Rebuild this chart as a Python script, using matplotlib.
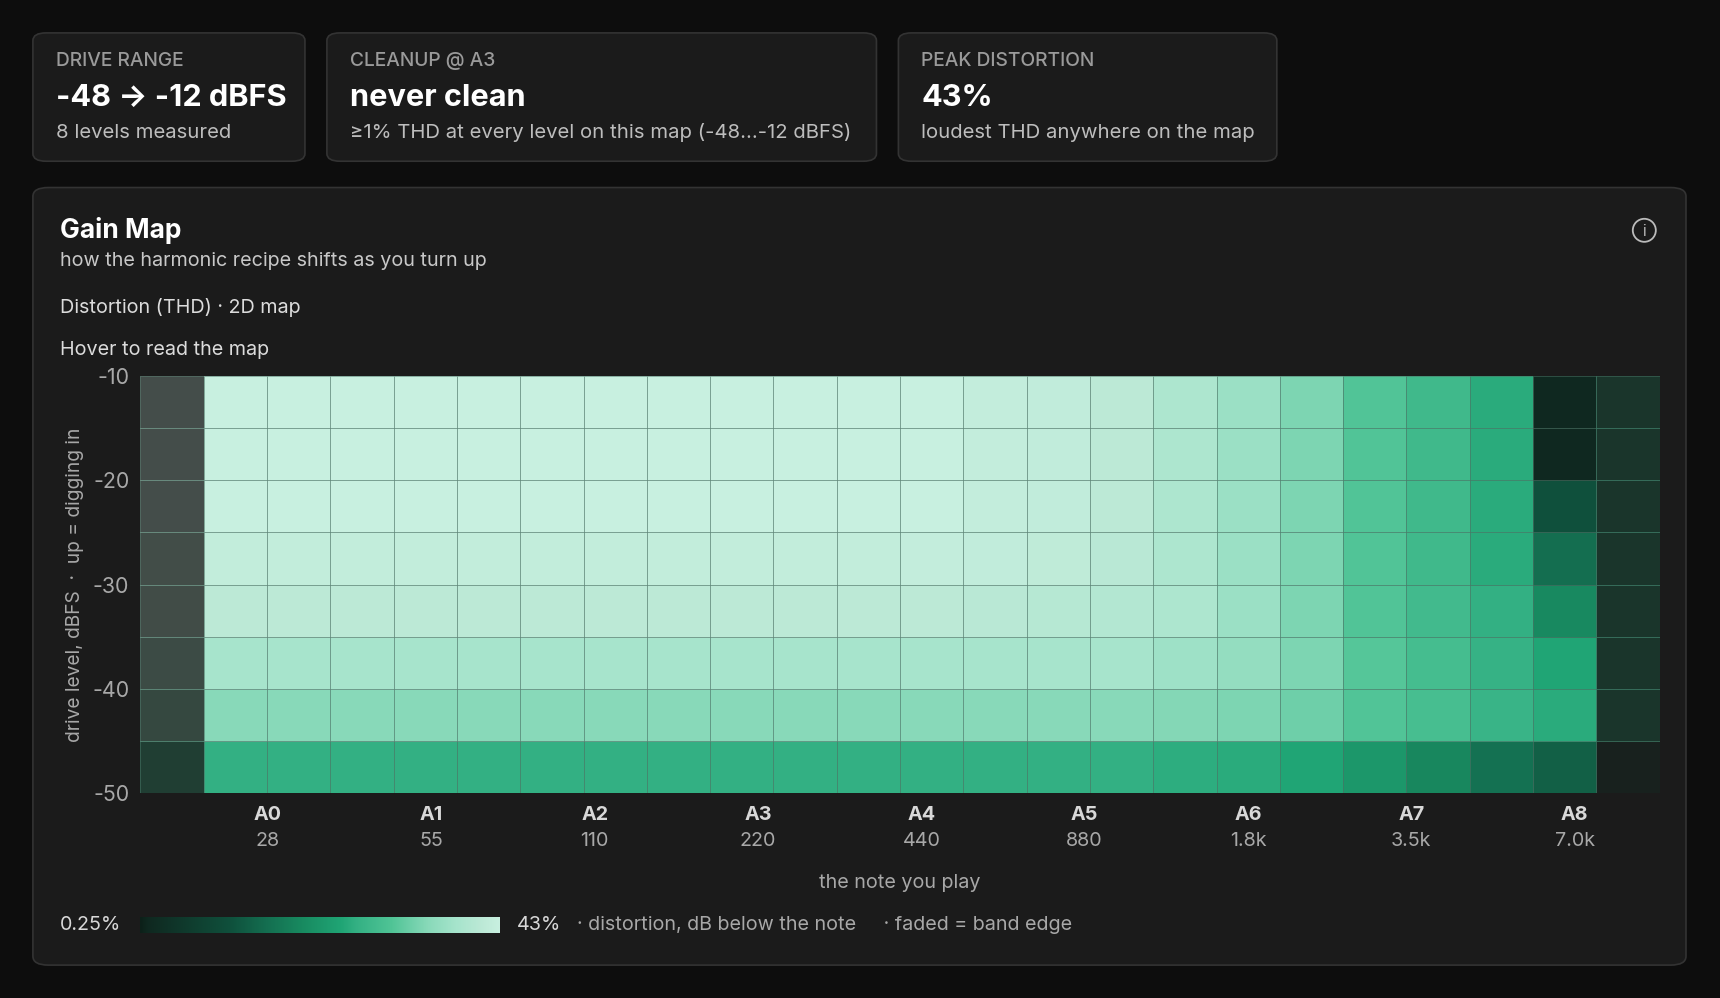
import numpy as np
import matplotlib
matplotlib.use("Agg")
import matplotlib.pyplot as plt
from matplotlib.colors import LinearSegmentedColormap, LogNorm
from matplotlib.patches import FancyBboxPatch, Ellipse

plt.rcParams['font.family'] = ['Inter', 'DejaVu Sans']

# ---------------- data ----------------
levels = [-48, -43, -38, -33, -27, -22, -17, -12]          # bottom -> top
notes = ["A0", "A1", "A2", "A3", "A4", "A5", "A6", "A7", "A8"]
note_freqs = [27.5, 55, 110, 220, 440, 880, 1760, 3520, 7040]
note_freq_labels = ["28", "55", "110", "220", "440", "880", "1.8k", "3.5k", "7.0k"]
band_edge = [True] + [False] * 22 + [True]
# THD % per band (24 bands), one list per level, bottom (-48) -> top (-12)
thd_m48 = [5.5]*12 + [5.5, 5.5, 5.5, 5.5, 5.2, 4.95, 4.45, 3.3, 2.4, 1.6, 1.18, 0.42]
thd_m43 = [15.3]*12 + [15.3, 15.3, 15.3, 15.3, 14.6, 13.8, 11.9, 9.2, 7.9, 6.1, 4.95, 2.5]
thd_m38 = [23.1]*12 + [23.1, 23.1, 23.1, 23.1, 20.8, 17.8, 13.8, 9.7, 7.5, 5.8, 4.45, 2.5]
thd_m33 = [33.1]*12 + [33.1, 31.5, 29.9, 28.4, 25.6, 19.8, 13.8, 9.2, 7.1, 5.5, 2.5, 2.5]
thd_m27 = [38.0]*12 + [38.7, 36.8, 34.9, 31.5, 25.6, 19.8, 13.8, 9.2, 6.8, 4.95, 1.52, 2.5]
thd_m22 = [43.0]*12 + [43.0, 38.7, 36.8, 33.1, 25.6, 19.8, 13.8, 9.2, 6.8, 4.95, 0.91, 2.5]
thd_m17 = [43.0]*12 + [43.0, 38.7, 36.8, 33.1, 25.6, 19.8, 13.8, 9.2, 6.8, 4.95, 0.28, 2.5]
thd_m12 = [43.0]*12 + [43.0, 38.7, 36.8, 33.1, 25.6, 19.8, 13.8, 9.2, 6.8, 4.95, 0.28, 2.5]
thd_rows = [thd_m48, thd_m43, thd_m38, thd_m33, thd_m27, thd_m22, thd_m17, thd_m12]
thd = np.array(thd_rows, dtype=float)

# ---------------- layout helpers ----------------
W, H = 1568.0, 910.0
fig = plt.figure(figsize=(17.2, 9.98), dpi=100)
fig.patch.set_facecolor("#0d0d0d")
S = 1720 / 1568.0  # scale factor display->output px

def rect(x0, y0, x1, y1):
    return [x0 / W, 1 - y1 / H, (x1 - x0) / W, (y1 - y0) / H]

def fx(x): return x / W
def fy(y): return 1 - y / H
def pt(px): return px * S * 72 / 100.0

def card(x0, y0, x1, y1, r=12):
    p = FancyBboxPatch((fx(x0), fy(y1)), fx(x1) - fx(x0), fy(y0) - fy(y1),
                       boxstyle=f"round,pad=0,rounding_size={r / W}",
                       transform=fig.transFigure, facecolor="#1b1b1b",
                       edgecolor="#333333", linewidth=1.2, zorder=-5)
    fig.patches.append(p)

# KPI cards
cards = [
    (30, 278, "DRIVE RANGE", "-48 → -12 dBFS", "8 levels measured"),
    (298, 799, "CLEANUP @ A3", "never clean", "≥1% THD at every level on this map (-48…-12 dBFS)"),
    (819, 1164, "PEAK DISTORTION", "43%", "loudest THD anywhere on the map"),
]
for x0, x1, lab, val, sub in cards:
    card(x0, 30, x1, 147)
    fig.text(fx(x0 + 21), fy(56), lab, color="#9a9a9a", fontsize=pt(17.5), va="center", fontweight="medium")
    fig.text(fx(x0 + 21), fy(89), val, color="#ffffff", fontsize=pt(28), fontweight="bold", va="center")
    fig.text(fx(x0 + 21), fy(121), sub, color="#bdbdbd", fontsize=pt(18.5), va="center")

# main panel
card(30, 171, 1537, 880, r=14)
fig.text(fx(55), fy(210), "Gain Map", color="#ffffff", fontsize=pt(24), fontweight="bold", va="center")
fig.text(fx(55), fy(238), "how the harmonic recipe shifts as you turn up", color="#c8c8c8", fontsize=pt(18), va="center")
fig.text(fx(55), fy(280), "Distortion (THD) · 2D map", color="#dcdcdc", fontsize=pt(18), va="center")
fig.text(fx(55), fy(319), "Hover to read the map", color="#dcdcdc", fontsize=pt(18), va="center")
# info icon
fig.patches.append(Ellipse((fx(1499), fy(210)), 21 / W, 21 / H, transform=fig.transFigure,
                           facecolor="none", edgecolor="#bbbbbb", linewidth=1.3))
fig.text(fx(1499), fy(211), "i", color="#bbbbbb", fontsize=pt(14), ha="center", va="center")

# colormap
stops = [(0.0, "#0c2019"), (0.02, "#0f2820"), (0.25, "#0f503c"), (0.35, "#146e50"),
         (0.45, "#188a60"), (0.56, "#20a575"), (0.6, "#33b083"), (0.7, "#50c496"),
         (0.8, "#88d9b9"), (0.88, "#a6e4cc"), (0.95, "#bce9d6"), (1.0, "#c8f0e0")]
cmap = LinearSegmentedColormap.from_list("thd", stops)
norm = LogNorm(vmin=0.25, vmax=43)

# heatmap
ax = fig.add_axes(rect(128, 343, 1513, 723), zorder=3)
ax.set_facecolor("#1b1b1b")
xedges = np.geomspace(16.0, 10100.0, len(band_edge) + 1)
yedges = np.linspace(-50, -10, len(levels) + 1)
edge_mask = np.array(band_edge)[None, :].repeat(len(levels), 0)
main = np.ma.masked_where(edge_mask, thd)
faded = np.ma.masked_where(~edge_mask, thd)
ax.pcolormesh(xedges, yedges, main, cmap=cmap, norm=norm,
              edgecolors=(0.3, 0.45, 0.4, 0.35), linewidth=0.6)
ax.pcolormesh(xedges, yedges, faded, cmap=cmap, norm=norm, alpha=0.24,
              edgecolors=(0.3, 0.45, 0.4, 0.15), linewidth=0.6)
ax.set_xscale("log")
ax.set_xlim(xedges[0], xedges[-1])
ax.set_ylim(-50, -10)
for s in ax.spines.values():
    s.set_visible(False)
ax.set_yticks([-50, -40, -30, -20, -10])
ax.set_yticklabels(["-50", "-40", "-30", "-20", "-10"])
ax.tick_params(axis="y", length=0, pad=8, colors="#a8a8a8", labelsize=pt(19.5))
ax.set_xticks(note_freqs)
ax.set_xticklabels([""] * len(notes))
ax.minorticks_off()
ax.tick_params(axis="x", length=0, which="both")
for f, n, fl in zip(note_freqs, notes, note_freq_labels):
    ax.text(f, -52.1, n, color="#d8d8d8", fontsize=pt(18), fontweight="bold",
            ha="center", va="center", transform=ax.transData, clip_on=False)
    ax.text(f, -54.6, fl, color="#a8a8a8", fontsize=pt(18),
            ha="center", va="center", transform=ax.transData, clip_on=False)
fig.text(fx(820), fy(805), "the note you play", color="#a8a8a8", fontsize=pt(18), ha="center", va="center")
fig.text(fx(68), fy(533), "drive level, dBFS  ·  up = digging in", color="#a8a8a8",
         fontsize=pt(17.5), rotation=90, ha="center", va="center")

# colorbar legend
cax = fig.add_axes(rect(128, 836, 456, 851), zorder=3)
grad = np.geomspace(0.25, 43, 256)[None, :]
cax.imshow(grad, aspect="auto", cmap=cmap, norm=norm, extent=[0, 1, 0, 1])
cax.set_axis_off()
fig.text(fx(55), fy(843), "0.25%", color="#d8d8d8", fontsize=pt(18), va="center")
fig.text(fx(471), fy(843), "43%", color="#d8d8d8", fontsize=pt(18), va="center")
fig.text(fx(526), fy(843), "· distortion, dB below the note     · faded = band edge",
         color="#a8a8a8", fontsize=pt(18), va="center")

fig.savefig("out.png", dpi=100, facecolor=fig.get_facecolor())
